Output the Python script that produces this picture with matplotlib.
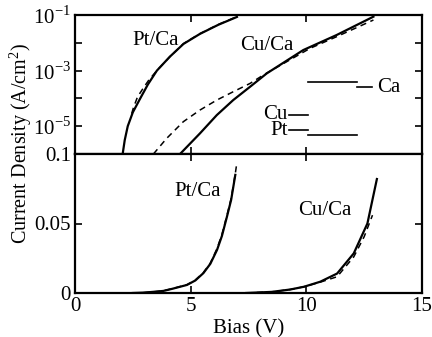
import matplotlib
matplotlib.use("Agg")
import matplotlib.pyplot as plt
import numpy as np

plt.rcParams['font.family'] = ['Liberation Serif', 'DejaVu Serif']
plt.rcParams['mathtext.fontset'] = 'custom'
plt.rcParams['mathtext.rm'] = 'Liberation Serif'
plt.rcParams['font.size'] = 15

# top panel (log scale), exponents of J
pt_sol_v = [2.06, 2.15, 2.28, 2.5, 2.82, 3.15, 3.54, 4.1, 4.69, 5.4, 6.2, 7.0]
pt_sol_e = [-6, -5.5, -5.0, -4.5, -4.0, -3.5, -3.0, -2.5, -2.04, -1.68, -1.35, -1.07]
pt_das_v = [2.45, 2.52, 2.7, 2.95, 3.2, 3.54, 4.1, 4.69, 5.4, 6.2, 7.0]
pt_das_e = [-4.55, -4.35, -3.95, -3.63, -3.33, -3.0, -2.5, -2.03, -1.67, -1.34, -1.06]
cu_sol_v = [4.54, 5.40, 6.13, 6.84, 7.57, 8.29, 9.87, 11.31, 12.90]
cu_sol_e = [-6.0, -5.26, -4.60, -4.06, -3.58, -3.10, -2.26, -1.72, -1.06]
cu_das_v = [3.39, 3.96, 4.68, 5.40, 6.13, 6.84, 7.57, 8.14, 10.16, 11.31, 12.90]
cu_das_e = [-6.0, -5.44, -4.84, -4.42, -4.06, -3.76, -3.46, -3.16, -2.20, -1.78, -1.18]

# bottom panel (linear)
pt_lin_v = [2.5, 3.0, 3.5, 3.82, 4.2, 4.84, 5.2, 5.55, 5.85, 6.14, 6.35, 6.57, 6.75, 6.93]
pt_lin_j = [0, 0.0003, 0.001, 0.0015, 0.003, 0.0058, 0.009, 0.0143, 0.021, 0.031, 0.041, 0.055, 0.067, 0.085]
pt_lin_dv = [2.5, 3.0, 3.5, 3.82, 4.2, 4.84, 5.2, 5.55, 5.85, 6.14, 6.35, 6.57, 6.75, 6.93, 7.0]
pt_lin_dj = [0, 0.0003, 0.001, 0.0016, 0.0031, 0.006, 0.0093, 0.0147, 0.0215, 0.032, 0.042, 0.056, 0.068, 0.086, 0.094]
cu_lin_v = [7.4, 8.5, 9.3, 9.9, 10.6, 11.33, 12.05, 12.64, 13.05]
cu_lin_j = [0, 0.0008, 0.0025, 0.0045, 0.0081, 0.014, 0.0285, 0.050, 0.082]
cu_lin_dv = [7.4, 8.5, 9.3, 9.9, 10.6, 11.33, 12.05, 12.5, 12.86]
cu_lin_dj = [0, 0.0008, 0.0025, 0.0045, 0.0078, 0.0117, 0.026, 0.0405, 0.056]

# work function level marks (x in V, exponent)
levels = {
    'Ca': [([10.07, 12.19], -3.41), ([12.19, 12.84], -3.59)],
    'Cu': [([9.25, 10.07], -4.60)],
    'Pt': [([9.25, 10.07], -5.14), ([10.07, 12.19], -5.31)],
}

fig = plt.figure(figsize=(4.32, 3.37), dpi=100)
ax1 = fig.add_axes([75/432, 1-154/337, 347/432, 139/337])
ax2 = fig.add_axes([75/432, 1-293/337, 347/432, 139/337])

lw = 1.6
ax1.plot(pt_sol_v, 10**np.array(pt_sol_e), 'k-', lw=lw)
ax1.plot(pt_das_v, 10**np.array(pt_das_e), 'k--', lw=1.1, dashes=(4, 3))
ax1.plot(cu_sol_v, 10**np.array(cu_sol_e), 'k-', lw=lw)
ax1.plot(cu_das_v, 10**np.array(cu_das_e), 'k--', lw=1.1, dashes=(4, 3))
for segs in levels.values():
    for xs, e in segs:
        ax1.plot(xs, [10**e, 10**e], 'k-', lw=1.2)
ax1.text(13.06, 10**-3.59, 'Ca', va='center', ha='left')
ax1.text(9.2, 10**-4.57, 'Cu', va='center', ha='right')
ax1.text(9.2, 10**-5.17, 'Pt', va='center', ha='right')
ax1.text(3.5, 10**-1.9, 'Pt/Ca', ha='center', va='center')
ax1.text(8.28, 10**-2.08, 'Cu/Ca', ha='center', va='center')

ax1.set_yscale('log')
ax1.set_xlim(0, 15)
ax1.set_ylim(1e-6, 1e-1)
ax1.set_yticks([1e-6, 1e-5, 1e-4, 1e-3, 1e-2, 1e-1])
ax1.set_yticklabels(['', r'10$^{-5}$', '', r'10$^{-3}$', '', r'10$^{-1}$'])
ax1.minorticks_off()
ax1.set_xticks([5, 10])
ax1.set_xticklabels([])

ax2.plot(pt_lin_v, pt_lin_j, 'k-', lw=lw)
ax2.plot(pt_lin_dv, pt_lin_dj, 'k--', lw=1.1, dashes=(4, 3))
ax2.plot(cu_lin_v, cu_lin_j, 'k-', lw=lw)
ax2.plot(cu_lin_dv, cu_lin_dj, 'k--', lw=1.1, dashes=(4, 3))
ax2.text(5.32, 0.0727, 'Pt/Ca', ha='center', va='center')
ax2.text(10.79, 0.0597, 'Cu/Ca', ha='center', va='center')
ax2.set_xlim(0, 15)
ax2.set_ylim(0, 0.1)
ax2.set_xticks([0, 5, 10, 15])
ax2.set_xticklabels(['0', '5', '10', '15'])
ax2.set_yticks([0, 0.05, 0.1])
ax2.set_yticklabels(['0', '0.05', '0.1'])
ax2.set_xlabel('Bias (V)', labelpad=2)

for ax in (ax1, ax2):
    ax.tick_params(direction='in', top=True, right=True, length=5, width=1.2, pad=3)
    for s in ax.spines.values():
        s.set_linewidth(1.6)

fig.text(21/432, 1-143/337, 'Current Density (A/cm$^2$)', rotation=90,
         ha='center', va='center', fontsize=14.5)

fig.savefig('out.png', dpi=100)
